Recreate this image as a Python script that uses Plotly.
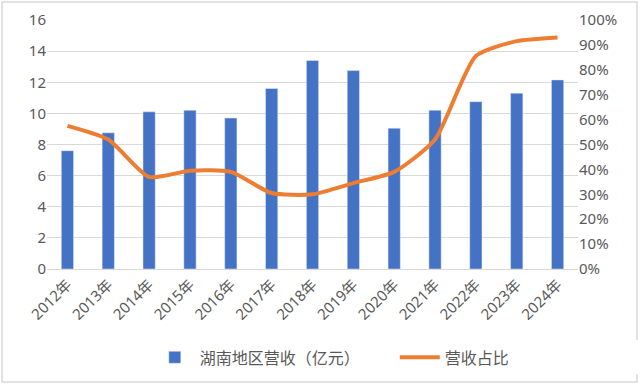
import plotly.graph_objects as go

years = ["2012年", "2013年", "2014年", "2015年", "2016年", "2017年", "2018年",
         "2019年", "2020年", "2021年", "2022年", "2023年", "2024年"]
revenue = [7.6, 8.75, 10.1, 10.2, 9.7, 11.6, 13.4, 12.75, 9.05, 10.2, 10.75, 11.3, 12.15]
share = [0.575, 0.52, 0.37, 0.395, 0.39, 0.305, 0.30, 0.345, 0.39, 0.52, 0.855, 0.915, 0.93]
left_ticks = [0, 2, 4, 6, 8, 10, 12, 14, 16]
right_ticks = [i / 10 for i in range(11)]

font_fam = "Noto Sans, Noto Sans CJK SC, sans-serif"
gray = "#595959"

fig = go.Figure()
fig.add_trace(go.Bar(x=years, y=revenue, name="湖南地区营收（亿元）",
                     marker_color="#4472C4", width=0.3))
fig.add_trace(go.Scatter(x=years, y=share, name="营收占比", yaxis="y2",
                         mode="lines", line=dict(color="#ED7D31", width=4, shape="spline", smoothing=0.6)))

fig.update_layout(
    width=640, height=385,
    margin=dict(l=47, r=62, t=20, b=116, autoexpand=False),
    plot_bgcolor="white", paper_bgcolor="white",
    font=dict(family=font_fam, size=15, color=gray),
    showlegend=True,
    legend=dict(orientation="h", x=0.655, xanchor="center", y=-0.355, yanchor="middle",
                font=dict(size=16, color=gray), itemwidth=40,
                entrywidth=190, entrywidthmode="pixels"),
    xaxis=dict(tickangle=-45, showgrid=False, showline=True, linecolor="#D9D9D9",
               linewidth=1, ticks="", tickfont=dict(size=15, color=gray)),
    yaxis=dict(range=[0, 16], tickvals=left_ticks, showgrid=True, gridcolor="#D9D9D9",
               zeroline=False, ticks="", tickfont=dict(size=15, color=gray)),
    yaxis2=dict(range=[0, 1], tickvals=right_ticks, tickformat=".0%", overlaying="y",
                side="right", showgrid=False, zeroline=False, ticks="",
                tickfont=dict(size=15, color=gray)),
    bargap=0.7,
    shapes=[dict(type="rect", xref="paper", yref="paper", layer="below",
                 x0=-45 / 531, x1=590 / 531, y0=-113 / 249, y1=267 / 249,
                 line=dict(color="#D9D9D9", width=1.5), fillcolor="rgba(0,0,0,0)")],
)

fig.write_html("out.html", config={"displayModeBar": False},
               post_script="document.body.style.margin='0';document.body.style.overflow='hidden';")
